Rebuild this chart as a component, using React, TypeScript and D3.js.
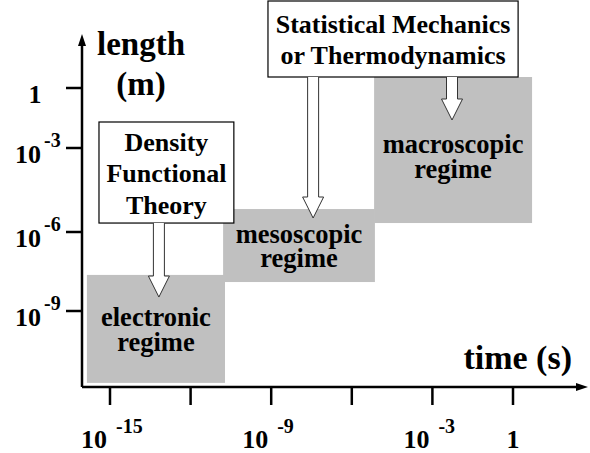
import * as d3 from 'd3';
import { useEffect, useRef } from 'react';

// exponents (log10) of time in s and length in m
const timeTicks = [-15, -12, -9, -6, -3, 0];
const timeTickLabels = ['-15', '', '-9', '', '-3', '1'];
const lengthTicks = [-9, -6, -3, 0];
const lengthTickLabels = ['-9', '-6', '-3', '1'];

const regimeNames = [['electronic', 'regime'], ['mesoscopic', 'regime'], ['macroscopic', 'regime']];
const regimeTime = [[-15.86, -10.72], [-10.79, -5.14], [-5.17, 0.71]];
const regimeLength = [[-11.73, -7.63], [-7.9, -5.18], [-5.68, 0.55]];

const methodNames = [['Density', 'Functional', 'Theory'], ['Statistical Mechanics', 'or Thermodynamics']];
const methodTime = [[-15.41, -10.39], [-9.12, 0.19]];
const methodLength = [[-5.68, -1.7], [0.55, 4.35]];

// arrows: which method box, time, length at the tip
const arrowMethod = [0, 1, 1];
const arrowTime = [-13.18, -7.44, -2.27];
const arrowTip = [-8.47, -5.5, -1.6];

const font = 'Liberation Serif, Times New Roman, serif';
const W = 590;
const H = 453;
const origin = { x: 82, y: 387 };
const regimeDy = [9.5, 9.5, 15.5];

export default function App() {
  const ref = useRef<SVGSVGElement>(null);

  useEffect(() => {
    const svg = d3.select(ref.current);
    svg.selectAll('*').remove();

    const x = d3.scaleLinear().domain([-15, 0]).range([110, 513]);
    const y = d3.scaleLinear().domain(lengthTicks).range([311, 232, 148, 88]);

    const g = svg.append('g').attr('font-family', font).attr('font-weight', 'bold');

    // multi-line centred label as one text element
    const label = (cx: number, cy: number, lines: string[], size: number, lh: number) => {
      const txt = g.append('text').attr('text-anchor', 'middle').attr('font-size', size);
      lines.forEach((t, j) => {
        txt
          .append('tspan')
          .attr('x', cx)
          .attr('y', cy + (j - (lines.length - 1) / 2) * lh)
          .text(t);
      });
    };

    // regimes
    regimeNames.forEach((lines, i) => {
      const x0 = x(regimeTime[i][0]);
      const x1 = x(regimeTime[i][1]);
      const y0 = y(regimeLength[i][1]);
      const y1 = y(regimeLength[i][0]);
      g.append('rect')
        .attr('x', x0)
        .attr('y', y0)
        .attr('width', x1 - x0)
        .attr('height', y1 - y0)
        .attr('fill', '#c0c0c0');
      label((x0 + x1) / 2, (y0 + y1) / 2 + regimeDy[i], lines, 26.5, 24.5);
    });

    // method boxes
    methodNames.forEach((lines, i) => {
      const x0 = x(methodTime[i][0]);
      const x1 = x(methodTime[i][1]);
      const y0 = y(methodLength[i][1]);
      const y1 = y(methodLength[i][0]);
      g.append('rect')
        .attr('x', x0)
        .attr('y', y0)
        .attr('width', x1 - x0)
        .attr('height', y1 - y0)
        .attr('fill', '#fff')
        .attr('stroke', '#000')
        .attr('stroke-width', 1.2);
      label((x0 + x1) / 2, (y0 + y1) / 2 + 9.5, lines, 26, 31.5);
    });

    // block arrows
    arrowTime.forEach((t, i) => {
      const m = arrowMethod[i];
      const ax = x(t);
      const top = y(methodLength[m][0]);
      const tip = y(arrowTip[i]);
      const sw = 5.5;
      const hw = 10.5;
      const hl = 21;
      const path = d3.path();
      path.moveTo(ax - sw, top);
      path.lineTo(ax - sw, tip - hl);
      path.lineTo(ax - hw, tip - hl);
      path.lineTo(ax, tip);
      path.lineTo(ax + hw, tip - hl);
      path.lineTo(ax + sw, tip - hl);
      path.lineTo(ax + sw, top);
      g.append('path')
        .attr('d', path.toString())
        .attr('fill', '#fff')
        .attr('stroke', '#333')
        .attr('stroke-width', 1);
    });

    // axes
    g.append('line')
      .attr('x1', origin.x)
      .attr('x2', 580)
      .attr('y1', origin.y)
      .attr('y2', origin.y)
      .attr('stroke', '#000')
      .attr('stroke-width', 2.5);
    g.append('line')
      .attr('x1', origin.x)
      .attr('x2', origin.x)
      .attr('y1', origin.y)
      .attr('y2', 42)
      .attr('stroke', '#000')
      .attr('stroke-width', 2.5);
    g.append('path')
      .attr('d', `M${origin.x},34 L${origin.x - 4},46 L${origin.x + 4},46 Z`)
      .attr('fill', '#000');
    g.append('path')
      .attr('d', `M588,${origin.y} L576,${origin.y - 4} L576,${origin.y + 4} Z`)
      .attr('fill', '#000');

    // x ticks
    timeTicks.forEach((t, i) => {
      const tx = x(t);
      g.append('line')
        .attr('x1', tx)
        .attr('x2', tx)
        .attr('y1', origin.y)
        .attr('y2', origin.y + 18)
        .attr('stroke', '#000')
        .attr('stroke-width', 2.5);
      const lab = timeTickLabels[i];
      if (lab === '1') {
        g.append('text').attr('x', tx).attr('y', 448).attr('text-anchor', 'middle').attr('font-size', 26).text('1');
      } else if (lab) {
        g.append('text').attr('x', tx - 3).attr('y', 448).attr('text-anchor', 'end').attr('font-size', 26).text('10');
        g.append('text').attr('x', tx + 6).attr('y', 433).attr('font-size', 20).text(lab);
      }
    });

    // y ticks
    lengthTicks.forEach((t, i) => {
      const ty = y(t);
      g.append('line')
        .attr('x1', origin.x - 16)
        .attr('x2', origin.x)
        .attr('y1', ty)
        .attr('y2', ty)
        .attr('stroke', '#000')
        .attr('stroke-width', 2.5);
      const lab = lengthTickLabels[i];
      if (lab === '1') {
        g.append('text').attr('x', 35).attr('y', ty + 15).attr('text-anchor', 'middle').attr('font-size', 26).text('1');
      } else {
        g.append('text').attr('x', 41).attr('y', ty + 15).attr('text-anchor', 'end').attr('font-size', 26).text('10');
        g.append('text').attr('x', 44).attr('y', ty - 1).attr('font-size', 20).text(lab);
      }
    });

    // axis titles
    g.append('text').attr('x', 141).attr('y', 55).attr('text-anchor', 'middle').attr('font-size', 33).text('length');
    g.append('text').attr('x', 141).attr('y', 95).attr('text-anchor', 'middle').attr('font-size', 33).text('(m)');
    g.append('text').attr('x', 572).attr('y', 369).attr('text-anchor', 'end').attr('font-size', 34).text('time (s)');
  }, []);

  return (
    <svg
      ref={ref}
      width={W}
      height={H}
      style={{ position: 'absolute', left: 0, top: 0, background: '#fff' }}
    />
  );
}
